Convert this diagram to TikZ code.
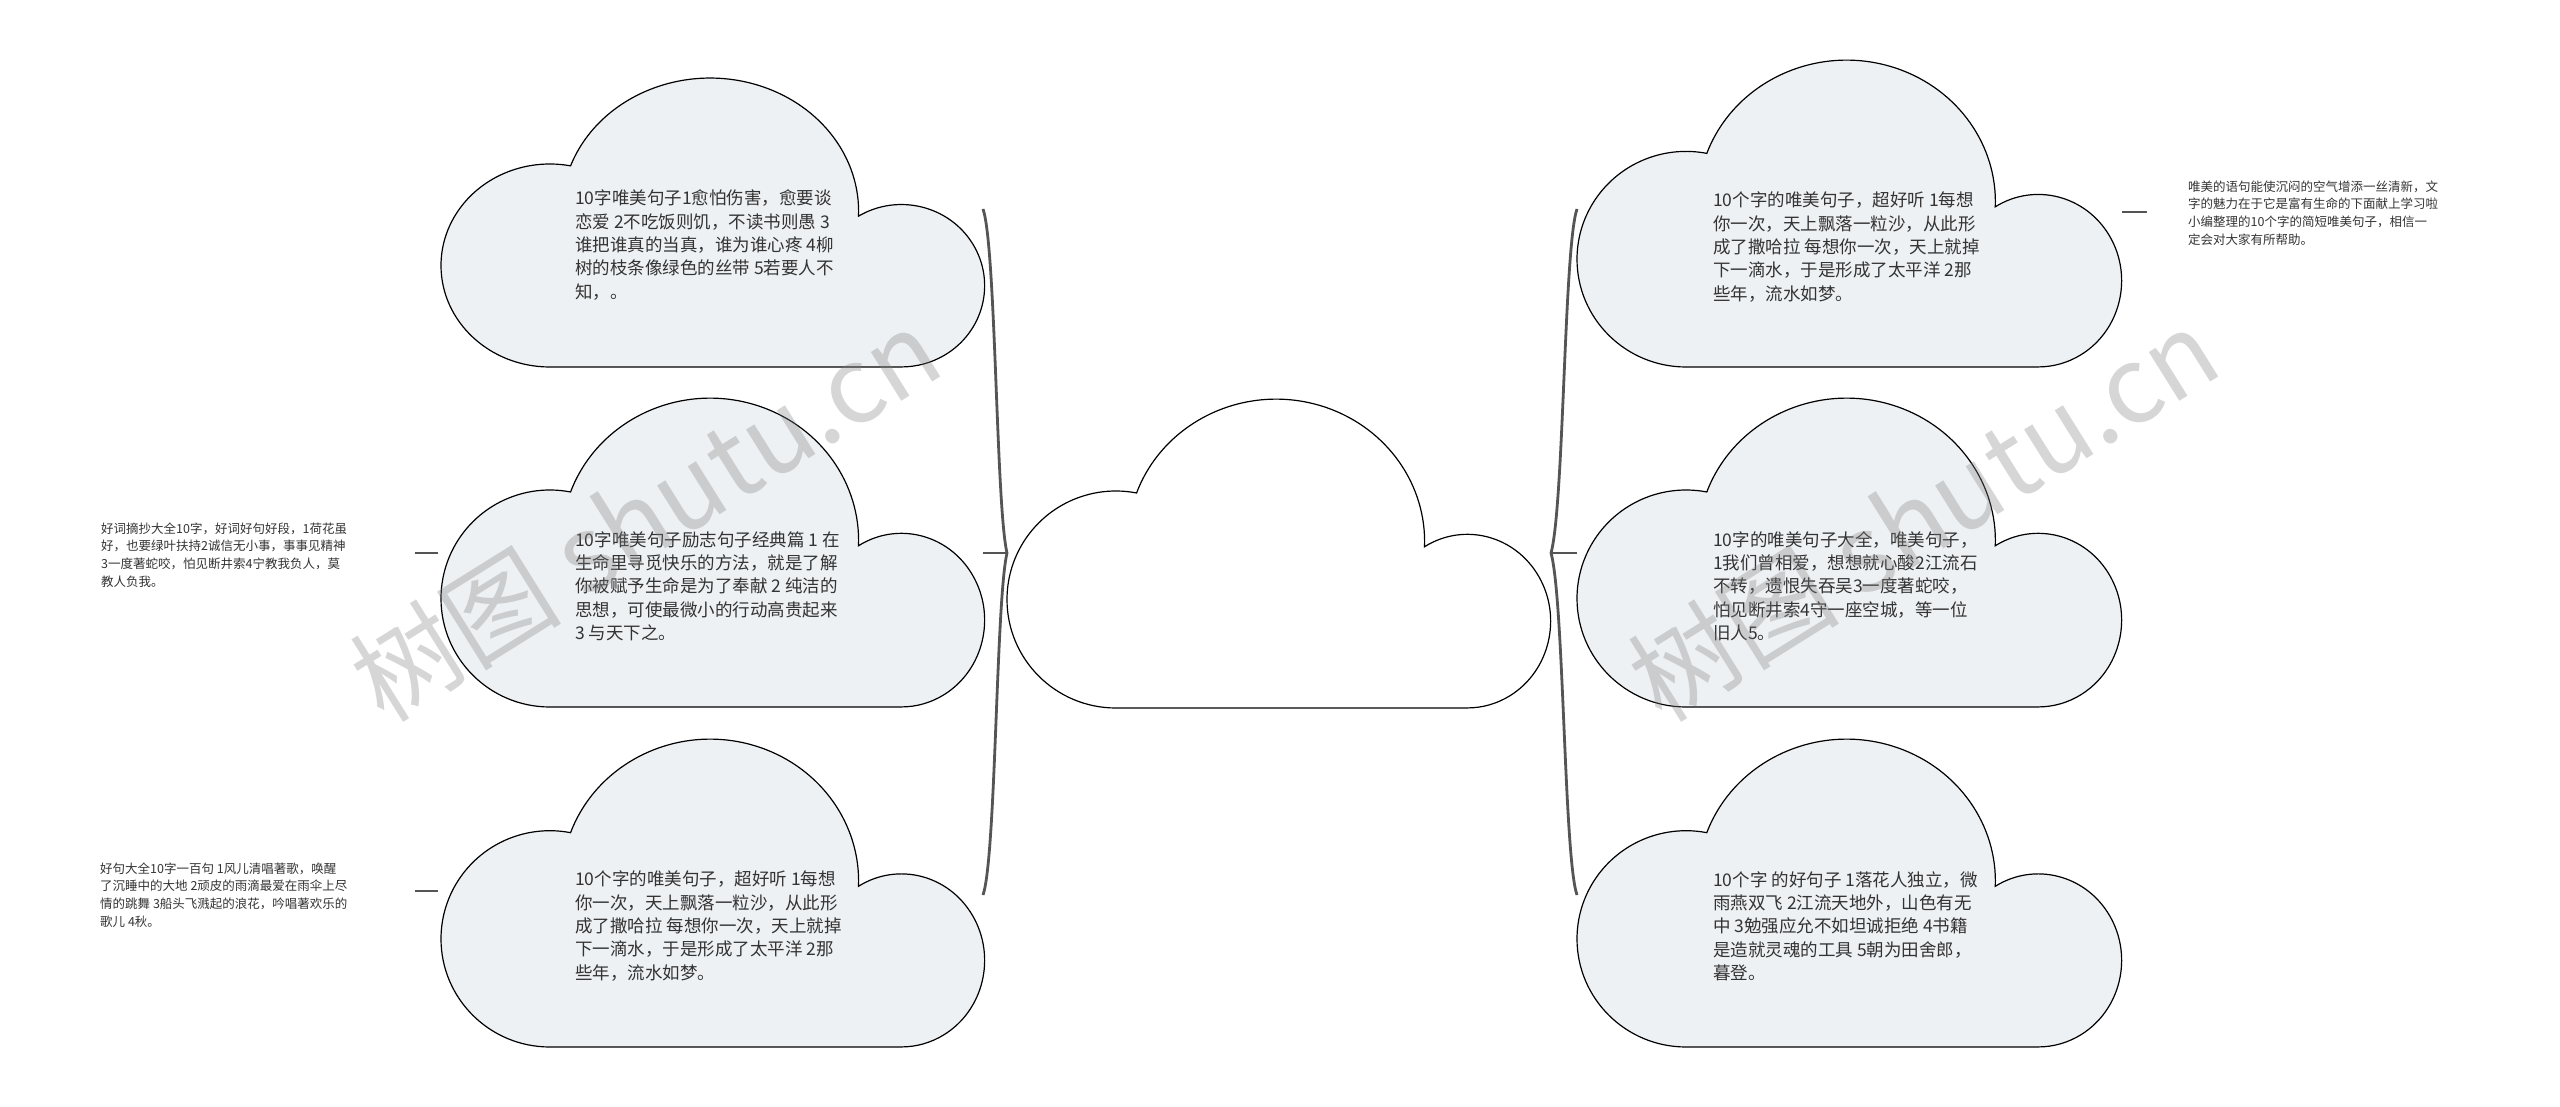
\documentclass[tikz,border=0pt]{standalone}
\usepackage{fontspec}
\setmainfont{Noto Sans CJK SC}
\usetikzlibrary{positioning}

\definecolor{cloudfill}{HTML}{EEF1F4}
\definecolor{inkgray}{HTML}{333333}
\definecolor{bracegray}{HTML}{555555}

% cloud: fill, x0, y0, width, height
\newcommand{\cloudat}[5]{%
  \begin{scope}[shift={(#2,#3)}, xscale=#4, yscale=#5]
    \draw[cloudline, fill=#1] (0.2,0)
      arc[start angle=270, end angle=79, x radius=0.2, y radius=0.35]
      arc[start angle=160, end angle=-2, x radius=0.273, y radius=0.46]
      arc[start angle=121, end angle=-90, x radius=0.153, y radius=0.28]
      -- cycle;
  \end{scope}}

\tikzset{
  cloudline/.style={draw=black, line width=1.2pt},
  cloudtext/.style={anchor=west, align=left, text=inkgray, inner sep=0pt,
    font=\fontsize{17.5}{23.3}\selectfont},
  notetext/.style={anchor=west, align=left, text=inkgray, inner sep=0pt,
    font=\fontsize{12.5}{17.8}\selectfont},
  bracket/.style={draw=bracegray, line width=2.8pt},
  stub/.style={draw=bracegray, line width=2pt},
  watermark/.style={text=gray, opacity=0.32, rotate=32,
    font=\fontsize{106}{106}\selectfont},
}

\begin{document}
\begin{tikzpicture}[x=1pt, y=1pt]
  \useasboundingbox (0,0) rectangle (2560,1106);

  % 1. clouds
  \cloudat{white}{1007}{398}{544}{310}
  \foreach \yb/\h in {739/290, 399/310, 59/309} {
    \cloudat{cloudfill}{441}{\yb}{544}{\h}
  }
  \foreach \yb/\h in {739/308, 399/310, 59/309} {
    \cloudat{cloudfill}{1577}{\yb}{545}{\h}
  }
  \coordinate (root) at (1279,553);

  % 2. cloud texts
  \node[cloudtext] (l1) at (575,861) {10字唯美句子1愈怕伤害，愈要谈\\恋爱 2不吃饭则饥，不读书则愚 3\\谁把谁真的当真，谁为谁心疼 4柳\\树的枝条像绿色的丝带 5若要人不\\知，。};
  \node[cloudtext] (l2) at (575,520) {10字唯美句子励志句子经典篇 1 在\\生命里寻觅快乐的方法，就是了解\\你被赋予生命是为了奉献 2 纯洁的\\思想，可使最微小的行动高贵起来\\3 与天下之。};
  \node[cloudtext] (l3) at (575,180) {10个字的唯美句子，超好听 1每想\\你一次，天上飘落一粒沙，从此形\\成了撒哈拉 每想你一次，天上就掉\\下一滴水，于是形成了太平洋 2那\\些年，流水如梦。};
  \node[cloudtext] (r1) at (1713,859) {10个字的唯美句子，超好听 1每想\\你一次，天上飘落一粒沙，从此形\\成了撒哈拉 每想你一次，天上就掉\\下一滴水，于是形成了太平洋 2那\\些年，流水如梦。};
  \node[cloudtext] (r2) at (1713,520) {10字的唯美句子大全，唯美句子，\\1我们曾相爱，想想就心酸2江流石\\不转，遗恨失吞吴3一度著蛇咬，\\怕见断井索4守一座空城，等一位\\旧人5。};
  \node[cloudtext] (r3) at (1713,180) {10个字 的好句子 1落花人独立，微\\雨燕双飞 2江流天地外，山色有无\\中 3勉强应允不如坦诚拒绝 4书籍\\是造就灵魂的工具 5朝为田舍郎，\\暮登。};

  % 3. notes
  \node[notetext] (n2) at (101,551) {好词摘抄大全10字，好词好句好段，1荷花虽\\好，也要绿叶扶持2诚信无小事，事事见精神\\3一度著蛇咬，怕见断井索4宁教我负人，莫\\教人负我。};
  \node[notetext] (n3) at (100,211) {好句大全10字一百句 1风儿清唱著歌，唤醒\\了沉睡中的大地 2顽皮的雨滴最爱在雨伞上尽\\情的跳舞 3船头飞溅起的浪花，吟唱著欢乐的\\歌儿 4秋。};
  \node[notetext] (m1) at (2188,893) {唯美的语句能使沉闷的空气增添一丝清新，文\\字的魅力在于它是富有生命的下面献上学习啦\\小编整理的10个字的简短唯美句子，相信一\\定会对大家有所帮助。};

  % 4. brackets
  \coordinate (lTop) at (983,897);
  \coordinate (lBot) at (983,211);
  \coordinate (lTip) at (1007,553);
  \coordinate (lEnd) at (983,553);
  \coordinate (rTop) at (1577,897);
  \coordinate (rBot) at (1577,211);
  \coordinate (rTip) at (1551,553);
  \coordinate (rEnd) at (1577,553);
  \draw[bracket] (lTop) .. controls (996,860) and (996,600) .. (lTip)
    .. controls (996,506) and (996,248) .. (lBot);
  \draw[bracket] (lEnd) -- (lTip);
  \draw[bracket] (rTop) .. controls (1564,860) and (1564,600) .. (rTip)
    .. controls (1564,506) and (1564,248) .. (rBot);
  \draw[bracket] (rTip) -- (rEnd);

  % 5. stubs to notes
  \coordinate (s2a) at (415,553);
  \coordinate (s2b) at (438,553);
  \coordinate (s3a) at (415,215);
  \coordinate (s3b) at (438,215);
  \coordinate (s1a) at (2122,894);
  \coordinate (s1b) at (2147,894);
  \draw[stub] (s2a) -- (s2b);
  \draw[stub] (s3a) -- (s3b);
  \draw[stub] (s1a) -- (s1b);

  % 6. watermark
  \node[watermark] (wm1) at (645,592) {树图 shutu.cn};
  \node[watermark] (wm2) at (1923,592) {树图 shutu.cn};
\end{tikzpicture}
\end{document}
